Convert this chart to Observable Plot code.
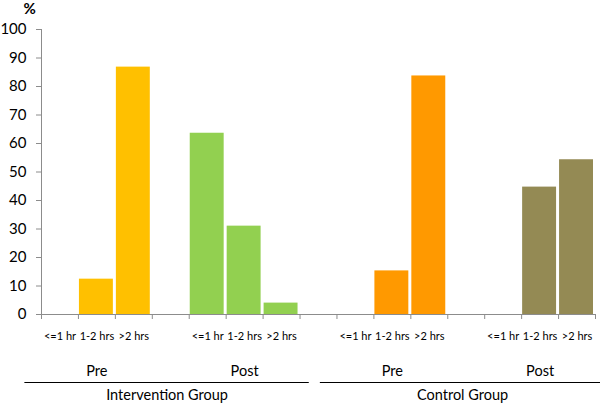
<!DOCTYPE html>
<html>
<head>
<meta charset="utf-8">
<script src="https://cdn.jsdelivr.net/npm/d3@7"></script>
<script src="https://cdn.jsdelivr.net/npm/@observablehq/plot@0.6"></script>
<style>
  html, body { margin: 0; padding: 0; background: #fff; }
  svg { display: block; }
</style>
</head>
<body>
<div id="chart"></div>
<script>
// ---- data ----
const durations = ["<=1 hr", "1-2 hrs", ">2 hrs"];
const phases = ["Pre", "Post", "Pre", "Post"];
const groups = ["Intervention Group", "Control Group"];
const preIntervention = [0, 12.4, 86.8];
const postIntervention = [63.6, 31.0, 4.0];
const preControl = [0, 15.3, 83.7];
const postControl = [0, 44.7, 54.3];
const phaseColors = ["#FFC000", "#92D050", "#FF9900", "#948A54"];
const yTicks = [0, 10, 20, 30, 40, 50, 60, 70, 80, 90, 100];

// ---- build tables (each phase = 3 bars + 1 gap slot) ----
const series = [preIntervention, postIntervention, preControl, postControl];
const slotsPerPhase = durations.length + 1;
const nSlots = phases.length * slotsPerPhase - 1;
const bars = [];
const catLabels = [];
series.forEach((vals, p) => {
  vals.forEach((v, c) => {
    const slot = p * slotsPerPhase + c;
    bars.push({slot, value: v, color: phaseColors[p]});
    catLabels.push({slot, label: durations[c]});
  });
});
const phaseLabels = phases.map((ph, p) => ({pos: p * slotsPerPhase + durations.length / 2, label: ph}));
const groupSpan = 2 * slotsPerPhase;
const groupData = groups.map((g, i) => ({
  x1: i * groupSpan - 0.45,
  x2: i * groupSpan + groupSpan - 0.75,
  label: g
}));
groupData.forEach(d => d.mid = (d.x1 + d.x2) / 2);

const font = "Lato, 'Open Sans', sans-serif";
const axisGray = "#8c8c8c";

const chart = Plot.plot({
  width: 600,
  height: 403,
  marginLeft: 41,
  marginRight: 5,
  marginTop: 29,
  marginBottom: 89,
  style: {fontFamily: font, background: "#fff", overflow: "visible"},
  x: {domain: [0, nSlots], axis: null},
  y: {domain: [0, 100], axis: null},
  marks: [
    Plot.rectY(bars.filter(d => d.value > 0), {
      x1: "slot", x2: d => d.slot + 1, y: "value",
      fill: "color", insetLeft: 1, insetRight: 2
    }),
    // y axis
    Plot.ruleX([0], {stroke: axisGray, y1: 0, y2: 100}),
    Plot.axisY({ticks: yTicks, tickSize: 5, tickPadding: 10, fontSize: 15, stroke: axisGray, color: "#000", label: null}),
    Plot.text(["%"], {frameAnchor: "top-left", dx: -18, dy: -26, fontSize: 15, fontWeight: "bold", fill: "#000"}),
    // x axis
    Plot.ruleY([0], {stroke: axisGray}),
    Plot.axisX({ticks: d3.range(nSlots + 1), tickFormat: () => "", tickSize: 5, stroke: axisGray, label: null}),
    Plot.text(catLabels, {x: d => d.slot + 0.5, y: 0, text: "label", dy: 22, fontSize: 11, fill: "#000", letterSpacing: "-0.4px"}),
    Plot.text(phaseLabels, {x: "pos", y: 0, text: "label", dy: 57, fontSize: 14.5, fill: "#000"}),
    Plot.ruleY(groupData, {x1: "x1", x2: "x2", y: 0, dy: 68, stroke: "#000", strokeWidth: 1, clip: false}),
    Plot.text(groupData, {x: "mid", y: 0, text: "label", dy: 81, fontSize: 14.5, fill: "#000"})
  ]
});
document.getElementById("chart").appendChild(chart);
</script>
</body>
</html>
